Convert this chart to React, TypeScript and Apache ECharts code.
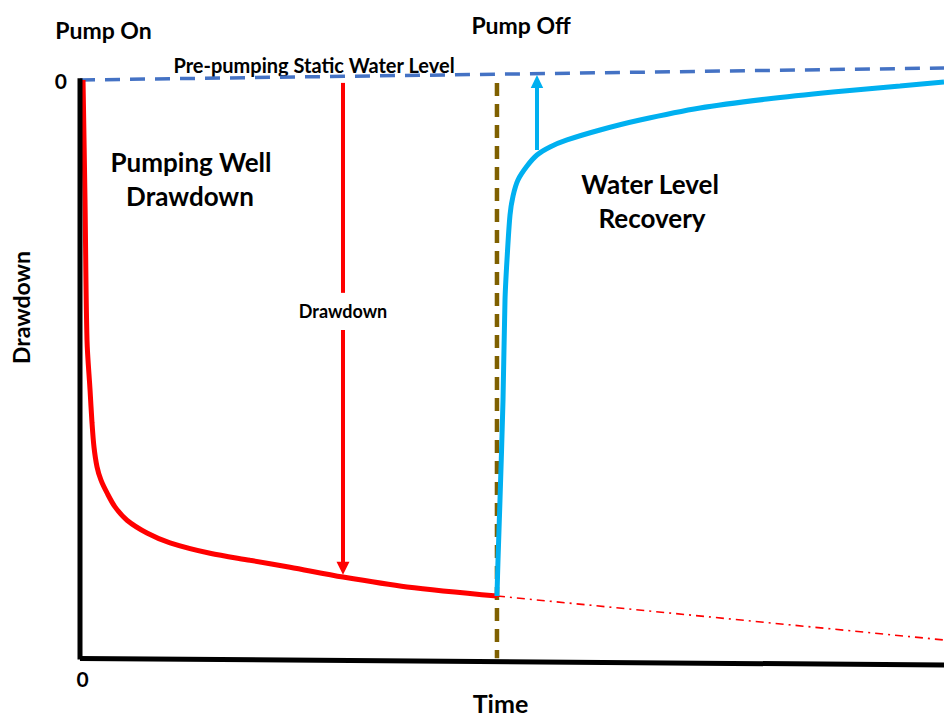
import React, { useEffect, useRef } from "react";
import * as echarts from "echarts";

// ---- data (time 0..100, drawdown 0 = static level, grows downward) ----
const pumpingTime = [0.35, 0.58, 0.81, 1.16, 1.39, 1.62, 1.97, 2.43, 3.13, 4.05, 5.44, 7.75, 10.42, 15.05, 19.68, 24.31, 30.44, 37.85, 48.26];
const pumpingDrawdown = [0, 20.7, 44.8, 53.4, 59.1, 63.3, 66.7, 69.0, 71.2, 73.6, 75.9, 78.1, 79.8, 81.6, 82.8, 84.0, 85.7, 87.4, 88.97];

const recoveryTime = [48.26, 48.38, 48.61, 48.96, 49.19, 49.42, 49.77, 50.12, 50.69, 51.74, 52.89, 54.4, 56.37, 60.19, 64.81, 71.76, 79.51, 87.15, 94.91, 100];
const recoveryDrawdown = [88.97, 82.76, 72.41, 55.17, 37.93, 31.03, 23.28, 20.0, 17.24, 14.83, 12.93, 11.55, 10.34, 8.62, 6.9, 4.83, 3.28, 2.07, 1.03, 0.34];

const staticTime = [0, 100];
const staticLevel = [0, -2.07];

const pumpOffTime = [48.26, 48.26];
const pumpOffSpan = [0.5, 99.7];

const extrapTime = [48.26, 100];
const extrapDrawdown = [88.97, 96.55];

const yAxisLineTime = [0, 0];
const yAxisLineValue = [-0.3, 99.9];
const xAxisLineTime = [0, 100];
const xAxisLineValue = [99.74, 100.86];

const drawdownArrowTime = 30.44;
const drawdownArrowUpper = [0.5, 36.7];
const drawdownArrowLower = [43.1, 84.2];
const recoveryArrowTime = 52.89;
const recoveryArrow = [12.07, 0.26];

const tickLabels = [0];

const zip = (xs: number[], ys: number[]) => xs.map((x, i) => [x, ys[i]]);

const FONT = "Lato";

export default function App() {
  const ref = useRef<HTMLDivElement>(null);
  useEffect(() => {
    if (!ref.current) return;
    const chart = echarts.init(ref.current, null, { renderer: "svg" });
    const txt = (text: string, x: number, y: number, size: number, rotation = 0) => ({
      type: "text",
      x,
      y,
      rotation,
      silent: true,
      style: {
        text,
        fill: "#000",
        fontSize: size,
        fontWeight: "bold",
        fontFamily: FONT,
        align: "center",
        verticalAlign: "middle",
      },
    });
    const lineSeries = (name: string, data: number[][], color: string, width: number, type: any, z: number, extra: any = {}) => ({
      name,
      type: "line",
      data,
      symbol: "none",
      clip: false,
      silent: true,
      z,
      lineStyle: { color, width, type, cap: "butt" },
      ...extra,
    });
    chart.setOption({
      animation: false,
      backgroundColor: "#fff",
      grid: { left: 80, right: 0, top: 56.8, bottom: 45.4, outerBoundsMode: "none" },
      xAxis: {
        type: "value",
        min: 0,
        max: 100,
        axisLine: { show: false, onZero: false },
        axisTick: { show: false },
        splitLine: { show: false },
        axisLabel: {
          customValues: tickLabels,
          margin: -4,
          color: "#000",
          fontSize: 21,
          fontWeight: "bold",
          fontFamily: FONT,
          padding: [0, 0, 0, 5],
        },
      },
      yAxis: {
        type: "value",
        inverse: true,
        min: -4,
        max: 102,
        axisLine: { show: false, onZero: false },
        axisTick: { show: false },
        splitLine: { show: false },
        axisLabel: {
          customValues: tickLabels,
          margin: 13,
          color: "#000",
          fontSize: 21,
          fontWeight: "bold",
          fontFamily: FONT,
          padding: [8, 0, 0, 0],
        },
      },
      series: [
        lineSeries("Pre-pumping static water level", zip(staticTime, staticLevel), "#4472c4", 3.5, [15, 10], 1),
        lineSeries("Pump off", zip(pumpOffTime, pumpOffSpan), "#7f6000", 4.5, [13, 8], 2),
        lineSeries("Extrapolated drawdown", zip(extrapTime, extrapDrawdown), "#ff0000", 1.6, [8, 5, 2, 5], 3),
        lineSeries("Pumping well drawdown", zip(pumpingTime, pumpingDrawdown), "#ff0000", 5, "solid", 4, {
          smooth: 0.3,
          markLine: {
            silent: true,
            symbol: ["none", "none"],
            label: { show: false },
            emphasis: { disabled: true },
            lineStyle: { color: "#ff0000", width: 4, type: "solid" },
            data: [
              [
                { coord: [drawdownArrowTime, drawdownArrowUpper[0]] },
                { coord: [drawdownArrowTime, drawdownArrowUpper[1]] },
              ],
              [
                { coord: [drawdownArrowTime, drawdownArrowLower[0]] },
                { coord: [drawdownArrowTime, drawdownArrowLower[1]], symbol: "triangle", symbolSize: [13, 13] },
              ],
            ],
          },
        }),
        lineSeries("Water level recovery", zip(recoveryTime, recoveryDrawdown), "#00b0f0", 5, "solid", 5, {
          smooth: 0.3,
          markLine: {
            silent: true,
            symbol: ["none", "none"],
            label: { show: false },
            emphasis: { disabled: true },
            lineStyle: { color: "#00b0f0", width: 4, type: "solid" },
            data: [
              [
                { coord: [recoveryArrowTime, recoveryArrow[0]] },
                { coord: [recoveryArrowTime, recoveryArrow[1]], symbol: "triangle", symbolSize: [12.5, 13] },
              ],
            ],
          },
        }),
        lineSeries("Drawdown axis", zip(yAxisLineTime, yAxisLineValue), "#000", 5, "solid", 6),
        lineSeries("Time axis", zip(xAxisLineTime, xAxisLineValue), "#000", 5, "solid", 6),
      ],
      graphic: [
        txt("Pump On", 103.5, 30, 23),
        txt("Pump Off", 521, 25, 23),
        txt("Pre-pumping Static Water Level", 314, 65, 20),
        txt("Pumping Well", 191, 162, 26),
        txt("Drawdown", 190, 196, 26),
        txt("Water Level", 650, 184, 26),
        txt("Recovery", 652, 218, 26),
        txt("Drawdown", 343, 311, 18),
        txt("Drawdown", 21, 307.5, 23, Math.PI / 2),
        txt("Time", 500.5, 703, 25),
      ],
    });
    return () => chart.dispose();
  }, []);
  return (
    <div
      ref={ref}
      style={{ position: "fixed", left: 0, top: 0, width: 944, height: 717, background: "#fff" }}
    />
  );
}
